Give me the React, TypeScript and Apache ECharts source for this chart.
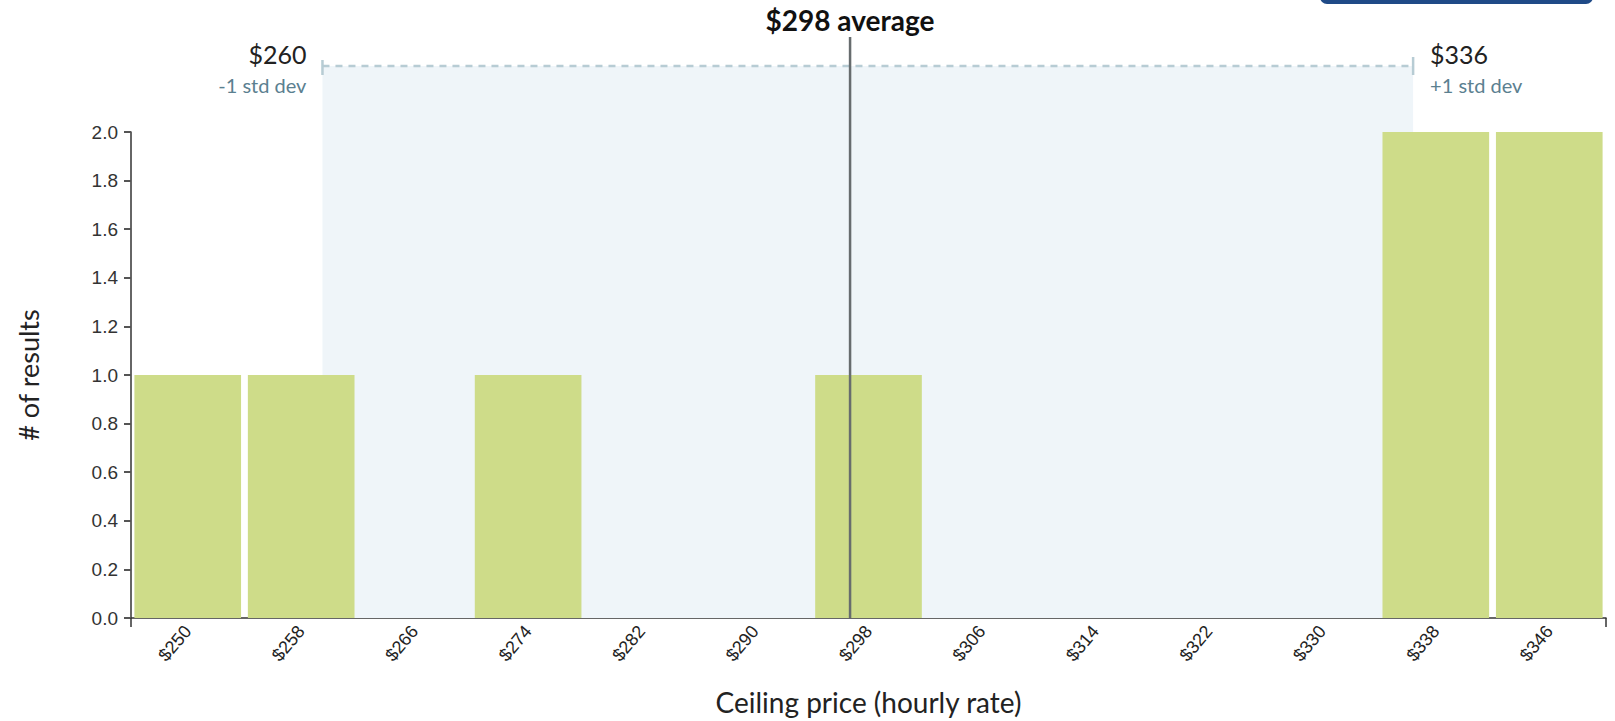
import React, { useEffect, useRef } from "react";
import * as echarts from "echarts";

const binLabels = ["$250", "$258", "$266", "$274", "$282", "$290", "$298", "$306", "$314", "$322", "$330", "$338", "$346"];
const binCounts = [1, 1, 0, 1, 0, 0, 1, 0, 0, 0, 0, 2, 2];
const binDomain = [246, 350];
const stdRange = [259.5, 336.4];
const stdLabels = ["$260", "$336"];
const stdSubLabels = ["-1 std dev", "+1 std dev"];
const averagePosition = 296.7;
const averageLabel = "$298 average";
const yRange = [0, 2];
const yStep = 0.2;

const TITLE_FONT = "Lato, 'Noto Sans', sans-serif";
const TICK_FONT = "'Liberation Sans', Arial, sans-serif";

export default function App() {
  const ref = useRef<HTMLDivElement>(null);
  useEffect(() => {
    if (!ref.current) return;
    const chart = echarts.init(ref.current, null, { renderer: "svg" });
    const option: any = {
      animation: false,
      backgroundColor: "#ffffff",
      grid: { left: 131, right: 9, top: 132, bottom: 103, containLabel: false },
      graphic: [
        {
          type: "rect",
          shape: { x: 1320, y: -12, width: 273, height: 16, r: 7 },
          style: { fill: "#1f4a87" },
          z: 10,
        },
      ],
      xAxis: [
        {
          type: "category",
          data: binLabels,
          position: "bottom",
          boundaryGap: true,
          name: "Ceiling price (hourly rate)",
          nameLocation: "middle",
          nameGap: 70,
          nameTextStyle: { fontFamily: TITLE_FONT, fontSize: 28, color: "#222" },
          axisLine: { lineStyle: { color: "#333", width: 1.5 } },
          axisTick: { alignWithLabel: true, length: 8, lineStyle: { color: "#555", width: 2 } },
          axisLabel: {
            rotate: 50,
            fontFamily: TICK_FONT,
            fontSize: 18,
            color: "#222",
            margin: 10,
          },
          splitLine: { show: false },
        },
        {
          type: "value",
          min: binDomain[0],
          max: binDomain[1],
          position: "bottom",
          axisLine: { show: false },
          axisLabel: { show: false },
          axisTick: { show: true, length: 9, customValues: binDomain, lineStyle: { color: "#333", width: 1.5 } },
          splitLine: { show: false },
        },
      ],
      yAxis: {
        type: "value",
        min: yRange[0],
        max: yRange[1],
        interval: yStep,
        name: "# of results",
        nameLocation: "middle",
        nameRotate: 90,
        nameGap: 89,
        nameTextStyle: { fontFamily: TITLE_FONT, fontSize: 27, color: "#222" },
        axisLine: { show: true, lineStyle: { color: "#333", width: 1.5 } },
        axisTick: { show: true, length: 7, lineStyle: { color: "#555", width: 2 } },
        axisLabel: {
          fontFamily: TICK_FONT,
          fontSize: 19,
          color: "#333",
          margin: 13,
          formatter: (v: number) => v.toFixed(1),
        },
        splitLine: { show: false },
      },
      series: [
        {
          type: "custom",
          name: "std band",
          xAxisIndex: 1,
          yAxisIndex: 0,
          z: 1,
          silent: true,
          data: [[stdRange[0], stdRange[1]]],
          renderItem: (params: any, api: any) => {
            const p0 = api.coord([api.value(0), 0]);
            const p1 = api.coord([api.value(1), 0]);
            const cs = params.coordSys;
            const top = cs.y - 66;
            const bottom = p0[1];
            const lineColor = "#b7ccd4";
            return {
              type: "group",
              children: [
                {
                  type: "rect",
                  shape: { x: p0[0], y: top, width: p1[0] - p0[0], height: bottom - top },
                  style: { fill: "#eff5f9" },
                },
                {
                  type: "line",
                  shape: { x1: p0[0], y1: top, x2: p1[0], y2: top },
                  style: { stroke: lineColor, lineWidth: 2.5, lineDash: [7, 6] },
                },
                {
                  type: "line",
                  shape: { x1: p0[0], y1: top - 6, x2: p0[0], y2: top + 9 },
                  style: { stroke: lineColor, lineWidth: 2.5 },
                },
                {
                  type: "line",
                  shape: { x1: p1[0], y1: top - 9, x2: p1[0], y2: top + 9 },
                  style: { stroke: lineColor, lineWidth: 2.5 },
                },
                {
                  type: "text",
                  style: {
                    x: p0[0] - 16, y: top - 12, text: stdLabels[0],
                    align: "right", verticalAlign: "middle",
                    font: `25px ${TITLE_FONT}`, fill: "#222",
                  },
                },
                {
                  type: "text",
                  style: {
                    x: p0[0] - 16, y: top + 19, text: stdSubLabels[0],
                    align: "right", verticalAlign: "middle",
                    font: `20px ${TITLE_FONT}`, fill: "#5b8090",
                  },
                },
                {
                  type: "text",
                  style: {
                    x: p1[0] + 17, y: top - 12, text: stdLabels[1],
                    align: "left", verticalAlign: "middle",
                    font: `25px ${TITLE_FONT}`, fill: "#222",
                  },
                },
                {
                  type: "text",
                  style: {
                    x: p1[0] + 17, y: top + 19, text: stdSubLabels[1],
                    align: "left", verticalAlign: "middle",
                    font: `20px ${TITLE_FONT}`, fill: "#5b8090",
                  },
                },
              ],
            };
          },
        },
        {
          type: "bar",
          name: "results",
          xAxisIndex: 0,
          yAxisIndex: 0,
          z: 2,
          data: binCounts,
          barCategoryGap: "6%",
          itemStyle: { color: "#cedc89" },
        },
        {
          type: "custom",
          name: "average",
          xAxisIndex: 1,
          yAxisIndex: 0,
          z: 3,
          silent: true,
          data: [[averagePosition, 0]],
          renderItem: (params: any, api: any) => {
            const p = api.coord([api.value(0), 0]);
            const cs = params.coordSys;
            return {
              type: "group",
              children: [
                {
                  type: "line",
                  shape: { x1: p[0], y1: cs.y - 95, x2: p[0], y2: p[1] },
                  style: { stroke: "#676c6e", lineWidth: 2.5 },
                },
                {
                  type: "text",
                  style: {
                    x: p[0], y: cs.y - 112, text: averageLabel,
                    align: "center", verticalAlign: "middle",
                    font: `bold 28px ${TITLE_FONT}`, fill: "#111",
                  },
                },
              ],
            };
          },
        },
      ],
    };
    chart.setOption(option);
    return () => chart.dispose();
  }, []);
  return (
    <div
      ref={ref}
      style={{ position: "fixed", left: 0, top: 0, width: 1615, height: 721 }}
    />
  );
}
